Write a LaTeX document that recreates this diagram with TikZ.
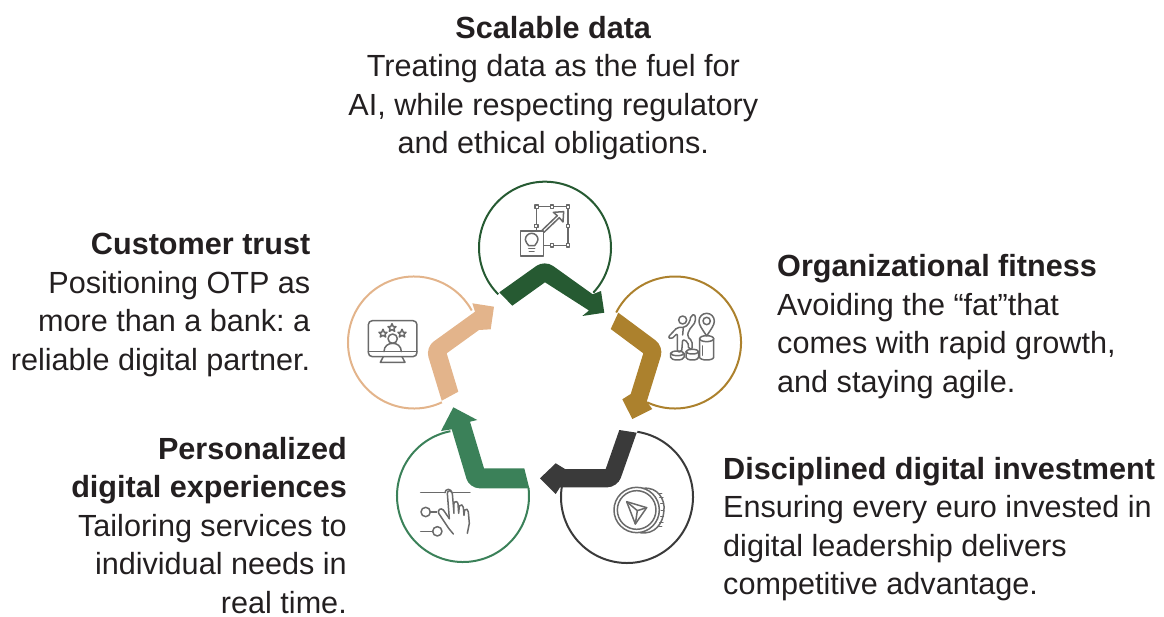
\documentclass[tikz,border=0pt]{standalone}
\usepackage{fontspec}
\setmainfont{Liberation Sans}
\usetikzlibrary{positioning,calc}
\definecolor{datagreen}{HTML}{265A32}
\definecolor{fitgold}{HTML}{AC812D}
\definecolor{investgrey}{HTML}{3A3A3A}
\definecolor{personalgreen}{HTML}{3B8159}
\definecolor{trusttan}{HTML}{E3B48B}
\definecolor{icongrey}{HTML}{6A6A6A}
\definecolor{labelink}{HTML}{231F20}
\tikzset{
	ring/.style={line width=2pt},
	icon/.style={draw=icongrey,line width=1.5pt,line join=round,line cap=round},
	label/.style={text=labelink,inner sep=0pt,font=\fontsize{30.6}{38.5}\selectfont},
	iconscale/.style={shift={(#1)},x=0.3333pt,y=-0.3333pt},
}
\frenchspacing
\begin{document}
\begin{tikzpicture}[x=1pt,y=-1pt]
			\useasboundingbox (0,0) rectangle (1164,617);
			\coordinate (cdata) at (545,247.7);
			\coordinate (cfit) at (675,342.5);
			\coordinate (cinvest) at (627,497);
			\coordinate (cpersonal) at (463,496);
			\coordinate (ctrust) at (414,342.5);

			\draw[ring,datagreen] (cdata) ++(-43:66pt) arc[start angle=-43,end angle=225,radius=66pt];
			\draw[ring,fitgold] (cfit) ++(153:66pt) arc[start angle=153,end angle=-115,radius=66pt];
			\draw[ring,investgrey] (cinvest) ++(81:66pt) arc[start angle=81,end angle=-189,radius=66pt];
			\draw[ring,personalgreen] (cpersonal) ++(101:66pt) arc[start angle=101,end angle=367,radius=66pt];
			\draw[ring,trusttan] (ctrust) ++(29:66pt) arc[start angle=29,end angle=295,radius=66pt];

			\fill[datagreen] (512.3,305.7) -- (545,282.3) -- (589,310.5) -- (582.3,316) -- (604.3,312.7) -- (601,291) -- (592.7,294.3)
				[rounded corners=10pt] -- (544.7,260) [sharp corners] -- (499.3,292.3) -- cycle;
			\fill[fitgold] (610.7,329) -- (643.3,353.3) -- (630.7,394) -- (622.3,399.3) -- (632.3,419) -- (652.3,409) -- (646.7,401.7)
				[rounded corners=10pt] -- (663.8,346.5) [sharp corners] -- (618.3,312.7) -- cycle;
			\fill[investgrey] (619.3,430) -- (605.7,469) -- (565,469) -- (555.7,463.3) -- (540,478.3) -- (555.7,494) -- (560,487.3)
				[rounded corners=10pt] -- (617.5,487.3) [sharp corners] -- (636.7,432.7) -- cycle;
			\fill[personalgreen] (524.3,468.3) -- (484,468.3) -- (470,421.7) -- (477.3,420) -- (453.3,407.3) -- (441,431) -- (451.7,429.3)
				[rounded corners=10pt] -- (469.3,488.3) [sharp corners] -- (529.3,488.3) -- cycle;
			\fill[trusttan] (458.3,391.7) -- (446.7,353.3) -- (479,330) -- (490.7,329.3) -- (494,306.7) -- (472.3,303.3) -- (475,311.7)
				[rounded corners=10pt] -- (425.5,347.4) [sharp corners] -- (441.7,400.7) -- cycle;

			% icons, each in 3x crop units
			\begin{scope}[iconscale={470,175}]
				\draw[icon] (152,168) rectangle (220,243);
				\draw[icon] (200,95) -- (294,95) -- (294,211) -- (222,211) (199,95) -- (199,168);
				\foreach \boxx/\boxy in {200/95,246/95,294/95,294/153,294/211,246/211,199/153}
					\draw[icon,fill=white] (\boxx-5,\boxy-5) rectangle (\boxx+5,\boxy+5);
				\draw[icon] (216,166) -- (262,122) -- (250,112) -- (281,110) -- (279,141) -- (268,128) -- (222,172);
				\draw[icon] (176,212) .. controls (172,204) and (166,202) .. (166,194) arc[start angle=180,end angle=360,radius=19] .. controls (204,202) and (198,204) .. (194,212) -- cycle;
				\draw[icon] (176,220) -- (194,220) (178,230) -- (192,230);
			\end{scope}
			\begin{scope}[iconscale={600,270}]
				\draw[icon] (248,150) circle[radius=12];
				\draw[icon,rounded corners=2pt] (232,172) -- (256,172) -- (270,155) -- (272,137) -- (285,133) -- (287,155) -- (266,182) -- (262,200) -- (276,212) -- (277,238) -- (266,238) -- (264,216) -- (248,208) -- (245,246) -- (232,246) -- (232,190) -- (214,208) -- (204,202) -- cycle;
				\draw[icon] (250,172) -- (248,195);
				\draw[icon] (232,250) circle[x radius=20,y radius=7];
				\draw[icon] (212,250) -- (212,262) arc[start angle=180,end angle=0,x radius=20,y radius=8] -- (252,250);
				\draw[icon] (277,245) circle[x radius=19,y radius=7];
				\draw[icon] (258,245) -- (258,262) arc[start angle=180,end angle=0,x radius=19,y radius=8] -- (296,245);
				\draw[icon] (320,206) circle[x radius=21,y radius=9];
				\draw[icon] (299,206) -- (299,262) arc[start angle=180,end angle=0,x radius=21,y radius=8] -- (341,206);
				\draw[icon] (320,198) .. controls (305,175) and (297,165) .. (297,153) arc[start angle=180,end angle=360,radius=23] .. controls (343,165) and (335,175) .. (320,198) -- cycle;
				\draw[icon] (320,153) circle[radius=11];
				\draw[icon] (307,228) -- (307,256);
			\end{scope}
			\begin{scope}[iconscale={530,420}]
				\draw[icon] (320,270) circle[radius=68];
				\draw[icon] (320,270) circle[radius=58];
				\draw[icon] (340,205) .. controls (385,200) and (405,240) .. (402,270) .. controls (400,310) and (375,345) .. (330,338);
				\foreach \tickang in {-60,-40,...,60}
					\draw[icon,line width=0.9pt] ($(375,270)+({18*cos(\tickang)},{58*sin(\tickang)})$) -- ($(390,270)+({12*cos(\tickang)},{58*sin(\tickang)})$);
				\draw[icon] (290,245) -- (350,263) -- (316,312) -- cycle;
				\draw[icon] (290,245) -- (322,272) -- (350,263) (322,272) -- (316,312);
			\end{scope}
			\begin{scope}[iconscale={390,400}]
				\draw[icon] (92,278) -- (165,278) (190,278) -- (240,278);
				\draw[icon] (165,278) arc[start angle=180,end angle=360,radius=10];
				\draw[icon] (120,336) -- (140,336) (92,394) -- (128,394);
				\draw[icon] (107,336) circle[radius=14];
				\draw[icon] (142,394) circle[radius=14];
				\draw[icon] (178,356) -- (172,280) .. controls (172,270) and (186,270) .. (187,280) -- (192,340) -- (192,310) .. controls (194,302) and (204,304) .. (204,312) -- (206,340) -- (208,318) .. controls (212,312) and (220,314) .. (220,322) -- (222,346) -- (224,330) .. controls (228,324) and (235,328) .. (235,336) -- (238,370) -- (232,400);
				\draw[icon] (178,356) -- (160,330) .. controls (152,322) and (142,330) .. (146,340) -- (176,385) -- (190,402);
			\end{scope}
			\begin{scope}[iconscale={340,270}]
				\draw[icon,rounded corners=4pt] (85,152) rectangle (231,260);
				\draw[icon] (85,245) -- (231,245);
				\draw[icon] (130,260) -- (121,277) -- (195,277) -- (186,260);
				\draw[icon] (158,206) circle[radius=14];
				\draw[icon] (132,245) .. controls (132,228) and (145,220) .. (158,220) .. controls (171,220) and (184,228) .. (184,245);
				\foreach \starx/\stary in {129/190,156/173,186/190}
					\draw[icon] (\starx,\stary-12) -- (\starx+4,\stary-3) -- (\starx+12,\stary-3) -- (\starx+6,\stary+3) -- (\starx+8,\stary+11) -- (\starx,\stary+6) -- (\starx-8,\stary+11) -- (\starx-6,\stary+3) -- (\starx-12,\stary-3) -- (\starx-4,\stary-3) -- cycle;
			\end{scope}

			\node[label,align=center,anchor=north] (data) at (553.3,16) {\textbf{Scalable data}\\Treating data as the fuel for\\AI, while respecting regulatory\\and ethical obligations.};
			\node[label,align=left,anchor=north west] (fit) at (777,254.5) {\textbf{Organizational fitness}\\Avoiding the “fat”that\\comes with rapid growth,\\and staying agile.};
			\node[label,align=left,anchor=north west] (invest) at (723,456.7) {\textbf{Disciplined digital investment}\\Ensuring every euro invested in\\digital leadership delivers\\competitive advantage.};
			\node[label,align=right,anchor=north east] (personal) at (347,437) {\textbf{Personalized}\\\textbf{digital experiences}\\Tailoring services to\\individual needs in\\real time.};
			\node[label,align=right,anchor=north east] (trust) at (310.5,233.3) {\textbf{Customer trust}\\Positioning OTP as\\more than a bank: a\\reliable digital partner.};
\end{tikzpicture}
\end{document}
